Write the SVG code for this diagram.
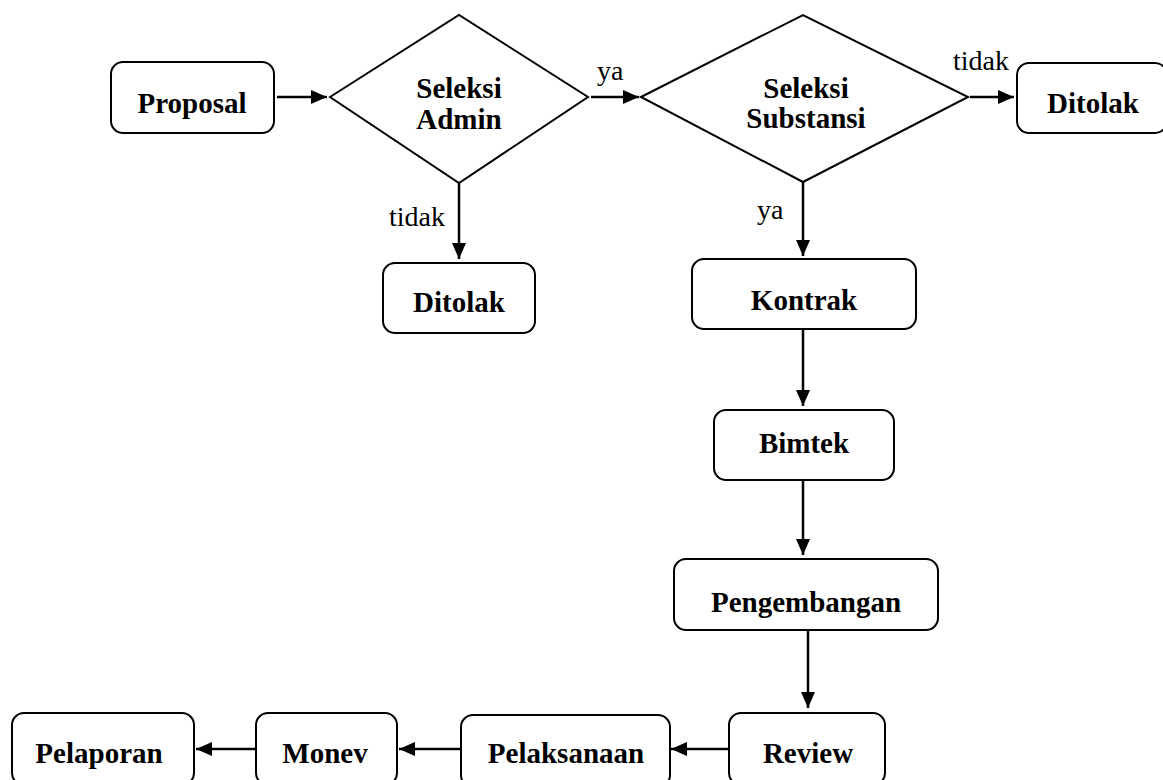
<svg xmlns="http://www.w3.org/2000/svg" width="1163" height="780" viewBox="0 0 1163 780">
<style>
.box{fill:#fff;stroke:#000;stroke-width:2}
.t{font-family:"Liberation Serif","Times New Roman",serif;font-weight:bold;font-size:29px;text-anchor:middle;fill:#000}
.l{font-family:"Liberation Serif","Times New Roman",serif;font-size:28px;fill:#000}
.c{stroke:#000;stroke-width:2.5;fill:none}
</style>
<defs>
<marker id="ah" viewBox="0 0 16 14" refX="16" refY="7" markerWidth="16" markerHeight="14" markerUnits="userSpaceOnUse" orient="auto">
<path d="M0,0 L16,7 L0,14 Z" fill="#000"/>
</marker>
</defs>
<rect width="1163" height="780" fill="#fff"/>
<g id="connectors">
<line class="c" x1="277" y1="97" x2="327" y2="97" marker-end="url(#ah)"/>
<line class="c" x1="591" y1="97" x2="639" y2="97" marker-end="url(#ah)"/>
<line class="c" x1="970" y1="97" x2="1014" y2="97" marker-end="url(#ah)"/>
<line class="c" x1="459" y1="183" x2="459" y2="259" marker-end="url(#ah)"/>
<line class="c" x1="803" y1="182" x2="803" y2="256" marker-end="url(#ah)"/>
<line class="c" x1="803" y1="329" x2="803" y2="406" marker-end="url(#ah)"/>
<line class="c" x1="803" y1="480" x2="803" y2="555" marker-end="url(#ah)"/>
<line class="c" x1="808" y1="630" x2="808" y2="708" marker-end="url(#ah)"/>
<line class="c" x1="729" y1="749" x2="671" y2="749" marker-end="url(#ah)"/>
<line class="c" x1="461" y1="749" x2="399" y2="749" marker-end="url(#ah)"/>
<line class="c" x1="256" y1="749" x2="196" y2="749" marker-end="url(#ah)"/>
<text class="l" x="597" y="80">ya</text>
<text class="l" x="953" y="70">tidak</text>
<text class="l" x="389" y="226">tidak</text>
<text class="l" x="757" y="219">ya</text>
</g>
<g id="proposal">
<rect class="box" x="111" y="62" width="163" height="71" rx="12"/>
<text class="t" x="192" y="113">Proposal</text>
</g>
<g id="seleksi-admin">
<polygon class="box" points="330,97 459,15 588,97 459,183"/>
<text class="t" x="459" y="98">Seleksi</text>
<text class="t" x="459" y="129">Admin</text>
</g>
<g id="seleksi-substansi">
<polygon class="box" points="641,97 803,15 968,97 803,182"/>
<text class="t" x="806" y="98">Seleksi</text>
<text class="t" x="806" y="128">Substansi</text>
</g>
<g id="ditolak-1">
<rect class="box" x="1017" y="63" width="150" height="70" rx="12"/>
<text class="t" x="1093" y="113">Ditolak</text>
</g>
<g id="ditolak-2">
<rect class="box" x="383" y="263" width="152" height="70" rx="12"/>
<text class="t" x="459" y="312">Ditolak</text>
</g>
<g id="kontrak">
<rect class="box" x="692" y="259" width="224" height="70" rx="12"/>
<text class="t" x="804" y="310">Kontrak</text>
</g>
<g id="bimtek">
<rect class="box" x="714" y="410" width="180" height="70" rx="12"/>
<text class="t" x="804" y="453">Bimtek</text>
</g>
<g id="pengembangan">
<rect class="box" x="674" y="559" width="264" height="71" rx="12"/>
<text class="t" x="806" y="612">Pengembangan</text>
</g>
<g id="review">
<rect class="box" x="729" y="713" width="156" height="72" rx="12"/>
<text class="t" x="808" y="763">Review</text>
</g>
<g id="pelaksanaan">
<rect class="box" x="461" y="715" width="209" height="72" rx="12"/>
<text class="t" x="566" y="763">Pelaksanaan</text>
</g>
<g id="monev">
<rect class="box" x="256" y="713" width="141" height="72" rx="12"/>
<text class="t" x="325" y="763">Monev</text>
</g>
<g id="pelaporan">
<rect class="box" x="12" y="713" width="182" height="72" rx="12"/>
<text class="t" x="99" y="763">Pelaporan</text>
</g>
</svg>
